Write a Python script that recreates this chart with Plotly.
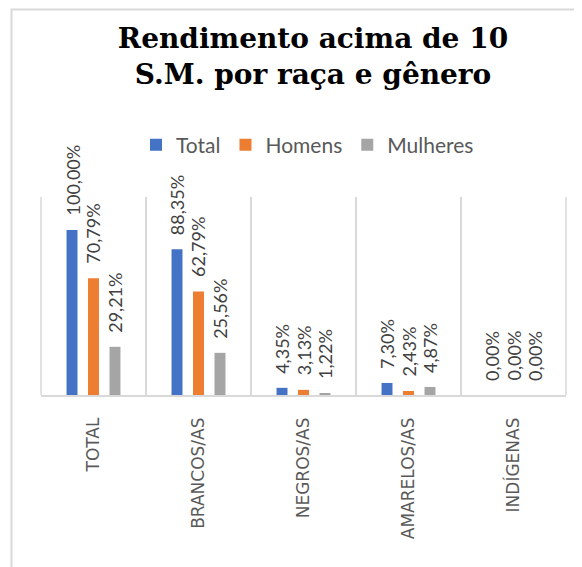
import plotly.graph_objects as go

categories = ["TOTAL", "BRANCOS/AS", "NEGROS/AS", "AMARELOS/AS", "INDÍGENAS"]
series_names = ["Total", "Homens", "Mulheres"]
total_vals = [100.00, 88.35, 4.35, 7.30, 0.00]
homens_vals = [70.79, 62.79, 3.13, 2.43, 0.00]
mulheres_vals = [29.21, 25.56, 1.22, 4.87, 0.00]
colors = ["#4472C4", "#ED7D31", "#A5A5A5"]
title_text = "Rendimento acima de 10<br>S.M. por raça e gênero"

OFF = 8  # page body margin of the html
W, H = 582 - OFF, 567 - OFF
L, R, T, B = 41 - OFF, 566 - OFF, 197 - OFF, 395 - OFF  # plot area in px

def fmt(v):
    return f"{v:.2f}".replace(".", ",") + "%"

fig = go.Figure()
all_vals = [total_vals, homens_vals, mulheres_vals]
for name, vals, col in zip(series_names, all_vals, colors):
    fig.add_trace(go.Bar(name=name, x=categories, y=vals, marker=dict(color=col, line=dict(width=0))))

annotations = []
slot = 21.5
for i, vals in enumerate(all_vals):
    for c, v in zip(categories, vals):
        annotations.append(dict(
            x=c, y=v, xref="x", yref="y", text=fmt(v), showarrow=False,
            textangle=-90, xanchor="center", yanchor="bottom",
            xshift=(i - 1) * slot, yshift=12,
            font=dict(family="Lato", size=18, color="#404040"),
        ))

pw, ph = R - L, B - T
def px_x(x):
    return (x - OFF - L) / pw
def px_y(y):
    return (B - (y - OFF)) / ph

grid = "#D9D9D9"
shapes = [
    # outer chart frame: grey block with white inner block
    dict(type="rect", xref="paper", yref="paper", x0=px_x(10.5), x1=px_x(640), y0=px_y(640), y1=px_y(8.5),
         fillcolor=grid, line=dict(width=0), layer="below"),
    dict(type="rect", xref="paper", yref="paper", x0=px_x(12.5), x1=px_x(640), y0=px_y(640), y1=px_y(10.5),
         fillcolor="white", line=dict(width=0), layer="below"),
    # plot-area edge gridlines
    dict(type="line", xref="paper", yref="paper", x0=0, x1=0, y0=0, y1=1, line=dict(color=grid, width=1.5)),
    dict(type="line", xref="paper", yref="paper", x0=1, x1=1, y0=0, y1=1, line=dict(color=grid, width=1.5)),
]

fig.update_layout(
    width=W, height=H,
    margin=dict(l=L, r=W - R, t=T, b=H - B, pad=0),
    paper_bgcolor="white", plot_bgcolor="rgba(0,0,0,0)",
    barmode="group", bargap=0.386, bargroupgap=0.49,
    title=dict(text=title_text, x=(313 - OFF) / W, xanchor="center", xref="container",
               y=1 - 40 / H, yanchor="top", yref="container",
               font=dict(family="DejaVu Serif", size=28, color="black", weight="bold")),
    legend=dict(orientation="h", x=px_x(307.5), xanchor="center", y=px_y(145), yanchor="middle",
                font=dict(family="Lato", size=21, color="#595959"), bgcolor="rgba(0,0,0,0)"),
    xaxis=dict(type="category", tickson="boundaries", showgrid=True, gridcolor=grid, gridwidth=1.5,
               showline=True, linecolor=grid, linewidth=1.5, ticks="", tickangle=-90,
               ticklabelstandoff=14,
               tickfont=dict(family="DejaVu Sans", size=17, color="#595959"), range=[-0.5, 4.5]),
    yaxis=dict(range=[0, 120], visible=False, showgrid=False),
    annotations=annotations,
    showlegend=True,
    shapes=shapes,
)

fig.write_html("out.html", config={"displayModeBar": False})
